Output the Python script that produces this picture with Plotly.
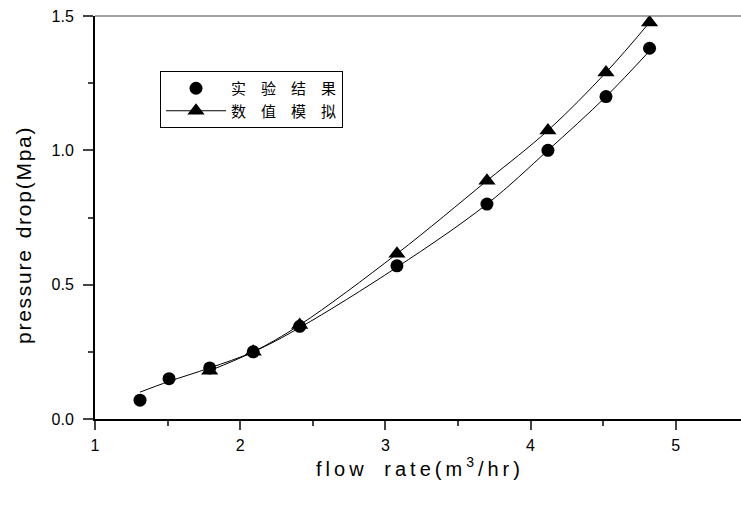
import plotly.graph_objects as go

# Experimental results (circles)
exp_x = [1.31, 1.51, 1.79, 2.09, 2.41, 3.08, 3.70, 4.12, 4.52, 4.82]
exp_y = [0.07, 0.15, 0.19, 0.25, 0.345, 0.57, 0.80, 1.00, 1.20, 1.38]

fit_x = [1.31, 1.51, 1.79, 2.09, 2.41, 3.08, 3.70, 4.12, 4.52, 4.82]
fit_y = [0.10, 0.14, 0.19, 0.25, 0.34, 0.565, 0.80, 1.00, 1.20, 1.37]

# Numerical simulation (triangles)
sim_x = [1.79, 2.09, 2.41, 3.08, 3.70, 4.12, 4.52, 4.82]
sim_y = [0.18, 0.25, 0.35, 0.615, 0.887, 1.074, 1.29, 1.476]

EMS = "\u2003"
names = [EMS.join("实验结果"), EMS.join("数值模拟")]
x_ticks = [1, 2, 3, 4, 5]
y_ticks = [0.0, 0.5, 1.0, 1.5]
y_tick_text = ["0.0", "0.5", "1.0", "1.5"]

FONT = "Liberation Sans, Arial, sans-serif"
TS = "\u2009"
HS = "\u200a"


def spaced(s, sep):
    return sep.join(s)


x_title = (spaced("flow", TS) + TS + "\u00a0\u00a0\u00a0" + spaced("rate(m", TS) + TS + "<sup>3</sup>"
           + TS + spaced("/hr)", TS))
y_title = spaced("pressure", HS) + "\u00a0\u00a0" + spaced("drop(Mpa)", HS)

fig = go.Figure()
fig.add_trace(go.Scatter(x=fit_x, y=fit_y, mode="lines", line=dict(color="black", width=1, shape="spline"),
                         showlegend=False, hoverinfo="skip"))
fig.add_trace(go.Scatter(x=exp_x, y=exp_y, mode="markers", name=names[0],
                         marker=dict(symbol="circle", size=13, color="black")))
fig.add_trace(go.Scatter(x=sim_x, y=sim_y, mode="lines+markers", name=names[1],
                         line=dict(color="black", width=1, shape="spline"),
                         marker=dict(symbol="triangle-up", size=15, color="black")))

fig.update_layout(
    width=741, height=507,
    margin=dict(l=95, r=0, t=16, b=88),
    paper_bgcolor="white", plot_bgcolor="white",
    font=dict(family=FONT, color="black", size=16),
    legend=dict(x=(160 - 95) / 646, y=(419 - 71) / 403, xanchor="left", yanchor="top",
                bordercolor="black", borderwidth=1, bgcolor="white",
                font=dict(family="Noto Sans CJK SC", size=15), itemwidth=60,
                tracegroupgap=0),
    xaxis=dict(range=[1, 5.45], tickvals=x_ticks, ticks="outside", ticklen=9, tickwidth=2,
               showline=True, linecolor="black", linewidth=2, showgrid=False, zeroline=False,
               minor=dict(ticks="outside", ticklen=5, tickwidth=2, dtick=0.5, showgrid=False),
               title=dict(text=x_title, font=dict(size=20), standoff=0),
               ticklabelstandoff=2, tickfont=dict(size=16)),
    yaxis=dict(range=[0, 1.5], tickvals=y_ticks, ticktext=y_tick_text, ticks="outside", ticklen=10, tickwidth=2,
               showline=True, linecolor="black", linewidth=2, showgrid=False, zeroline=False,
               minor=dict(ticks="outside", ticklen=5, tickwidth=2, dtick=0.25, showgrid=False),
               ticklabelstandoff=6, tickfont=dict(size=16)),
    annotations=[dict(text=y_title, textangle=-90, xref="paper", yref="paper",
                      x=(23 - 95) / 646, y=(419 - 236) / 403, xanchor="center", yanchor="middle",
                      showarrow=False, font=dict(size=21, family=FONT, color="black"))],
    shapes=[dict(type="line", xref="paper", yref="paper", x0=0, x1=1, y0=1, y1=1,
                 line=dict(color="#444", width=1))],
)

fig.write_html("out.html", post_script="document.body.style.margin='0';",
               config={"displayModeBar": False})
